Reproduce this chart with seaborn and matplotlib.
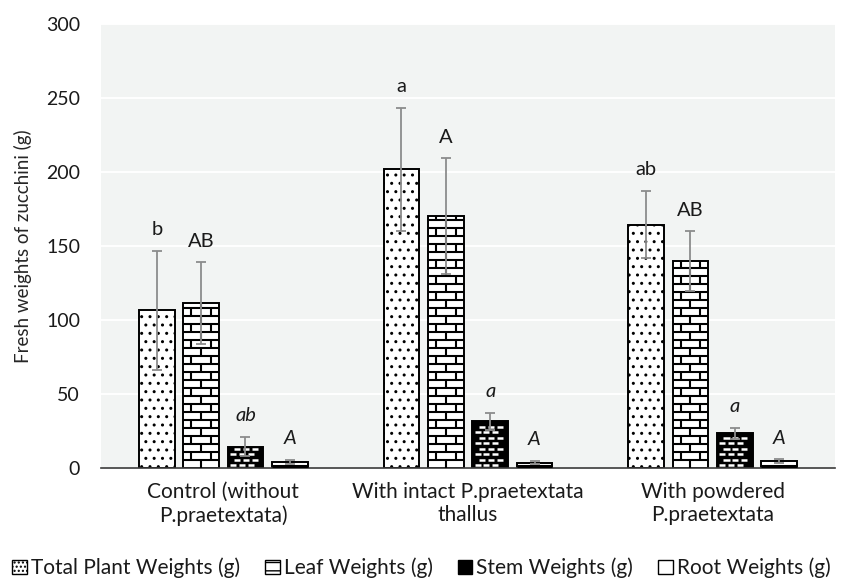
import numpy as np
import pandas as pd
import seaborn as sns
import matplotlib.pyplot as plt
from matplotlib.collections import LineCollection
from matplotlib.patches import Patch

treatments = ["Control (without\nP.praetextata)",
              "With intact P.praetextata\nthallus",
              "With powdered\nP.praetextata"]
parts = ["Total Plant Weights (g)", "Leaf Weights (g)",
         "Stem Weights (g)", "Root Weights (g)"]

total = [106.5, 202.0, 164.5]
leaf = [111.5, 170.5, 140.0]
stem = [14.5, 31.5, 23.5]
root = [4.0, 3.7, 4.8]

total_err = [40.5, 41.5, 22.8]
leaf_err = [27.5, 39.0, 20.0]
stem_err = [6.7, 6.0, 3.8]
root_err = [1.5, 1.1, 1.2]

total_sig = ["b", "a", "ab"]
leaf_sig = ["AB", "A", "AB"]
stem_sig = ["ab", "a", "a"]
root_sig = ["A", "A", "A"]

values = [total, leaf, stem, root]
errors = [total_err, leaf_err, stem_err, root_err]
sigs = [total_sig, leaf_sig, stem_sig, root_sig]
italic = [False, False, True, True]

df = pd.DataFrame({
    "treatment": np.tile(treatments, len(parts)),
    "part": np.repeat(parts, len(treatments)),
    "weight": np.concatenate(values),
})

sns.set_style("white", {"axes.facecolor": "#f2f4f3"})
plt.rcParams["font.family"] = ["Lato", "DejaVu Sans"]
plt.rcParams["text.color"] = "#1a1a1a"

fig = plt.figure(figsize=(8.43, 5.84), dpi=100)
ax = fig.add_axes([0.1198, 0.1986, 0.8707, 0.7598])

sns.barplot(data=df, x="treatment", y="weight", hue="part",
            palette=["white"] * 4, width=0.725, gap=0.2,
            edgecolor="black", linewidth=1.4, errorbar=None,
            legend=False, ax=ax, zorder=2)
bars = list(ax.containers)

ax.set_xlim(-0.5, 2.5)
ax.set_ylim(0, 300)
ax.set_yticks(range(0, 301, 50))
ax.grid(axis="y", color="white", linewidth=1.4, zorder=0)
ax.set_axisbelow(True)
for s in ["left", "right", "top"]:
    ax.spines[s].set_visible(False)
ax.spines["bottom"].set_color("#3a3a3a")
ax.spines["bottom"].set_linewidth(1.2)
ax.tick_params(axis="both", length=0, colors="#1a1a1a")
ax.tick_params(axis="y", pad=15, labelsize=14)
ax.tick_params(axis="x", pad=10, labelsize=15)
ax.set_xlabel("")
ax.set_ylabel("Fresh weights of zucchini (g)", fontsize=13.5)
ax.yaxis.set_label_coords(-0.094, 0.5)

# pixel size of one data unit
p0 = ax.transData.transform((0, 0))
p1 = ax.transData.transform((1, 1))
ppx, ppy = p1[0] - p0[0], p1[1] - p0[1]

# fill patterns
for i, cont in enumerate(bars):
    for p in cont.patches:
        x0, w, h = p.get_x(), p.get_width(), p.get_height()
        if i == 0:
            p.set_hatch("..")
        elif i == 1:
            rh = 8 / ppy
            segs = []
            k = 0
            while k * rh < h:
                yb, yt = k * rh, min((k + 1) * rh, h)
                if k > 0:
                    segs.append([(x0, yb), (x0 + w, yb)])
                fr = [0.5] if k % 2 == 0 else [0.22, 0.78]
                for f in fr:
                    segs.append([(x0 + f * w, yb), (x0 + f * w, yt)])
                k += 1
            ax.add_collection(LineCollection(segs, colors="black",
                                             linewidths=1.5, zorder=3))
        elif i == 2:
            p.set_facecolor("black")
            rh = 5.5 / ppy
            dl = 0.17 * w
            segs = []
            k = 0
            while (k + 0.5) * rh < h - 1.5 / ppy:
                y = (k + 0.5) * rh
                off = 0.06 * w if k % 2 == 0 else 0.18 * w
                xs = x0 + off
                while xs + dl < x0 + w - 0.04 * w:
                    segs.append([(xs, y), (xs + dl, y)])
                    xs += dl + 0.08 * w
                k += 1
            ax.add_collection(LineCollection(segs, colors="white",
                                             linewidths=1.8, zorder=3))
        else:
            y = 0.35 * h
            ax.add_collection(LineCollection([[(x0, y), (x0 + w, y)]],
                                             colors="black",
                                             linewidths=2.2, zorder=3))

# error bars and significance letters
for i, cont in enumerate(bars):
    xs = [p.get_x() + p.get_width() / 2 for p in cont.patches]
    ax.errorbar(xs, values[i], yerr=errors[i], fmt="none",
                ecolor="#8c8c8c", elinewidth=1.3, capsize=3.5,
                capthick=1.3, zorder=4)
    for x, v, e, s in zip(xs, values[i], errors[i], sigs[i]):
        ax.annotate(s, (x, v + e), xytext=(0, 9),
                    textcoords="offset points", ha="center", va="bottom",
                    fontsize=14.5, style="italic" if italic[i] else "normal")

handles = [
    Patch(facecolor="white", edgecolor="black", hatch="...."),
    Patch(facecolor="white", edgecolor="black", hatch="--"),
    Patch(facecolor="black", edgecolor="black", hatch=".."),
    Patch(facecolor="white", edgecolor="black", hatch="-"),
]
fig.legend(handles, parts, loc="center", bbox_to_anchor=(0.5, 1 - 568 / 584),
           ncol=4, frameon=False, fontsize=15, handlelength=0.7,
           handleheight=0.7, handletextpad=0.2, columnspacing=1.2)

fig.savefig("out.png", dpi=100, facecolor="white")
